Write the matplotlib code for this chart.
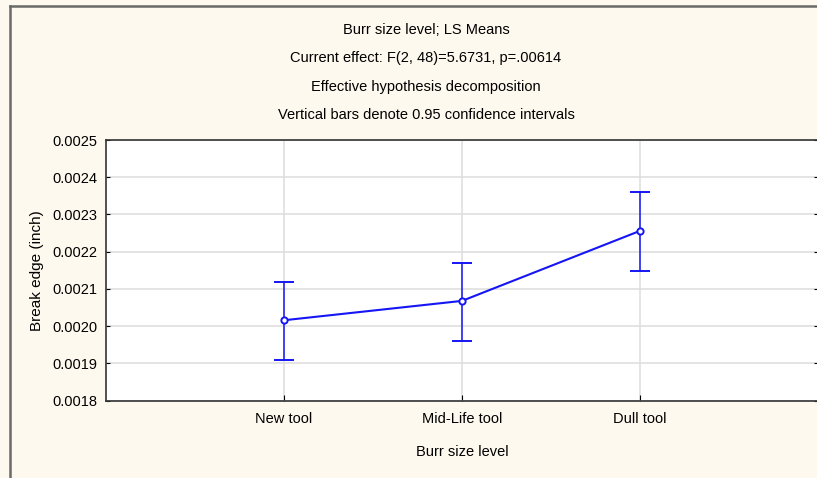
import matplotlib
matplotlib.use("Agg")
import matplotlib.pyplot as plt
from matplotlib.lines import Line2D
from matplotlib.ticker import FormatStrFormatter

plt.rcParams['font.family'] = ['Liberation Sans Narrow', 'Liberation Sans', 'DejaVu Sans']

levels = ["New tool", "Mid-Life tool", "Dull tool"]
means = [0.002016, 0.002068, 0.002256]
upper = [0.002119, 0.002171, 0.002360]
lower = [0.001909, 0.001961, 0.002148]
yticks = [0.0018, 0.0019, 0.0020, 0.0021, 0.0022, 0.0023, 0.0024, 0.0025]

title_lines = ["Burr size level; LS Means",
               "Current effect: F(2, 48)=5.6731, p=.00614",
               "Effective hypothesis decomposition",
               "Vertical bars denote 0.95 confidence intervals"]

bg = "#fef9ee"
blue = "#1515f5"

fig = plt.figure(figsize=(8.17, 4.78), dpi=100, facecolor=bg)
ax = fig.add_axes([106 / 817, 77.3 / 478, 712 / 817, 260.7 / 478])
ax.set_facecolor("white")

xs = [1, 2, 3]
err_lo = [m - l for m, l in zip(means, lower)]
err_hi = [u - m for m, u in zip(means, upper)]
ax.errorbar(xs, means, yerr=[err_lo, err_hi], color=blue, lw=1.5,
            elinewidth=1.1, capsize=7.5, capthick=1.1,
            marker='o', ms=4.5, mfc='white', mec=blue, mew=1.4, zorder=3)

ax.set_xlim(0, 4)
ax.set_ylim(0.0018, 0.0025)
ax.set_xticks(xs)
ax.set_xticklabels(levels, fontsize=10.5)
ax.set_yticks(yticks)
ax.yaxis.set_major_formatter(FormatStrFormatter('%.4f'))
ax.tick_params(axis='y', labelsize=10.5, direction='in', length=3, right=True, pad=6)
ax.tick_params(axis='x', direction='in', length=4, pad=8)
ax.grid(True, color="#dddddd", lw=1.1)
ax.set_axisbelow(True)
for s in ax.spines.values():
    s.set_color("#333333")
    s.set_linewidth(1.2)

ax.set_xlabel("Burr size level", fontsize=10.5, labelpad=14)
ax.set_ylabel("Break edge (inch)", fontsize=11, labelpad=6)

for i, t in enumerate(title_lines):
    fig.text(426 / 817, 1 - (30 + 28.3 * i) / 478, t,
             ha='center', va='center', fontsize=10.5)

# outer frame
fig.add_artist(Line2D([10 / 817, 1], [1 - 6 / 478, 1 - 6 / 478],
                      transform=fig.transFigure, color="#6a6a6a", lw=1.8))
fig.add_artist(Line2D([10 / 817, 10 / 817], [0, 1 - 6 / 478],
                      transform=fig.transFigure, color="#6a6a6a", lw=1.8))

fig.savefig("out.png", dpi=100, facecolor=bg)
